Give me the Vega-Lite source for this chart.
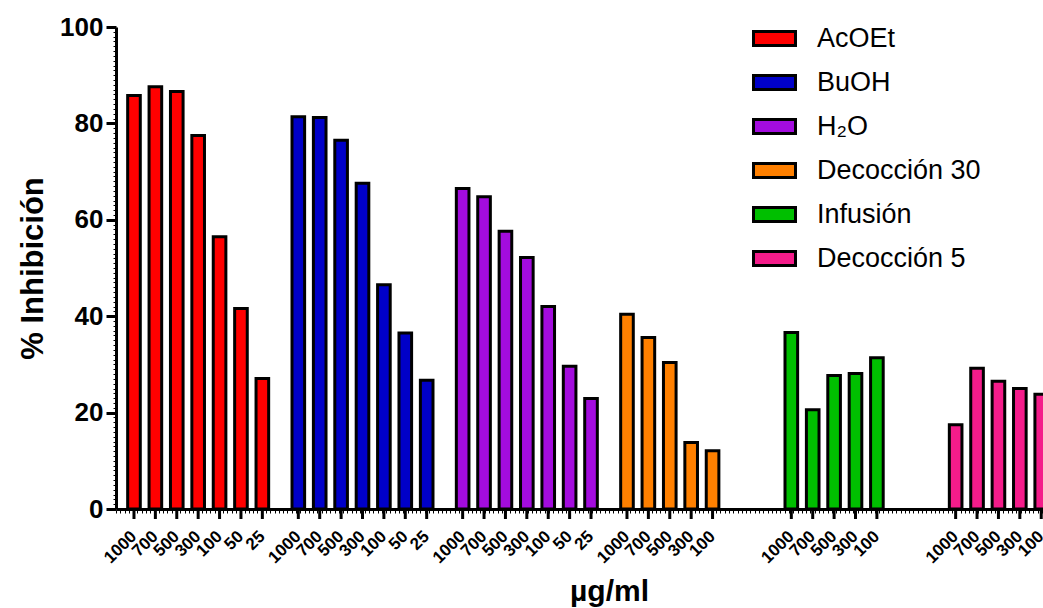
{
  "$schema": "https://vega.github.io/schema/vega-lite/v6.json",
  "width": 927,
  "height": 482,
  "autosize": {"type": "none"},
  "padding": {"left": 116, "top": 27, "right": 0, "bottom": 99},
  "background": "white",
  "config": {
    "view": {"stroke": null},
    "font": "Liberation Sans",
    "axis": {"labelColor": "black", "titleColor": "black", "tickColor": "black", "domainColor": "black", "grid": false}
  },
  "data": {
    "values": [
      {"extracto": "AcOEt", "dosis": "1000", "inhibicion": 85.8},
      {"extracto": "AcOEt", "dosis": "700", "inhibicion": 87.6},
      {"extracto": "AcOEt", "dosis": "500", "inhibicion": 86.6},
      {"extracto": "AcOEt", "dosis": "300", "inhibicion": 77.5},
      {"extracto": "AcOEt", "dosis": "100", "inhibicion": 56.5},
      {"extracto": "AcOEt", "dosis": "50", "inhibicion": 41.6},
      {"extracto": "AcOEt", "dosis": "25", "inhibicion": 27.1},
      {"extracto": "BuOH", "dosis": "1000", "inhibicion": 81.4},
      {"extracto": "BuOH", "dosis": "700", "inhibicion": 81.2},
      {"extracto": "BuOH", "dosis": "500", "inhibicion": 76.5},
      {"extracto": "BuOH", "dosis": "300", "inhibicion": 67.6},
      {"extracto": "BuOH", "dosis": "100", "inhibicion": 46.5},
      {"extracto": "BuOH", "dosis": "50", "inhibicion": 36.5},
      {"extracto": "BuOH", "dosis": "25", "inhibicion": 26.7},
      {"extracto": "H₂O", "dosis": "1000", "inhibicion": 66.5},
      {"extracto": "H₂O", "dosis": "700", "inhibicion": 64.8},
      {"extracto": "H₂O", "dosis": "500", "inhibicion": 57.6},
      {"extracto": "H₂O", "dosis": "300", "inhibicion": 52.2},
      {"extracto": "H₂O", "dosis": "100", "inhibicion": 42.0},
      {"extracto": "H₂O", "dosis": "50", "inhibicion": 29.6},
      {"extracto": "H₂O", "dosis": "25", "inhibicion": 22.9},
      {"extracto": "Decocción 30", "dosis": "1000", "inhibicion": 40.4},
      {"extracto": "Decocción 30", "dosis": "700", "inhibicion": 35.6},
      {"extracto": "Decocción 30", "dosis": "500", "inhibicion": 30.4},
      {"extracto": "Decocción 30", "dosis": "300", "inhibicion": 13.8},
      {"extracto": "Decocción 30", "dosis": "100", "inhibicion": 12.1},
      {"extracto": "Infusión", "dosis": "1000", "inhibicion": 36.6},
      {"extracto": "Infusión", "dosis": "700", "inhibicion": 20.6},
      {"extracto": "Infusión", "dosis": "500", "inhibicion": 27.7},
      {"extracto": "Infusión", "dosis": "300", "inhibicion": 28.1},
      {"extracto": "Infusión", "dosis": "100", "inhibicion": 31.4},
      {"extracto": "Decocción 5", "dosis": "1000", "inhibicion": 17.5},
      {"extracto": "Decocción 5", "dosis": "700", "inhibicion": 29.2},
      {"extracto": "Decocción 5", "dosis": "500", "inhibicion": 26.5},
      {"extracto": "Decocción 5", "dosis": "300", "inhibicion": 25.0},
      {"extracto": "Decocción 5", "dosis": "100", "inhibicion": 23.8}
    ]
  },
  "resolve": {"scale": {"x": "independent"}, "axis": {"x": "independent"}},
  "layer": [
    {
      "mark": {"type": "bar", "stroke": "black", "strokeWidth": 3, "strokeJoin": "miter"},
      "encoding": {
        "x": {
          "field": "extracto", "type": "nominal",
          "sort": ["AcOEt", "BuOH", "H₂O", "Decocción 30", "Infusión", "Decocción 5"],
          "scale": {"range": [0, 986], "paddingInner": 0.142, "paddingOuter": 0.071},
          "axis": {
            "orient": "bottom",
            "title": "µg/ml", "titleFontSize": 30, "titleFontWeight": "bold", "titlePadding": 67,
            "labels": false, "ticks": false, "domainWidth": 3
          }
        },
        "xOffset": {
          "field": "dosis", "type": "nominal",
          "sort": ["1000", "700", "500", "300", "100", "50", "25"],
          "scale": {"paddingInner": 0.41, "paddingOuter": 0}
        },
        "y": {
          "field": "inhibicion", "type": "quantitative",
          "scale": {"domain": [0, 100], "nice": false},
          "axis": {
            "title": "% Inhibición", "titleFontSize": 31, "titleFontWeight": "bold", "titlePadding": 10,
            "labelFontSize": 26, "labelFontWeight": "bold", "labelPadding": 3,
            "labelOverlap": false, "labelFlush": false, "labelBound": false,
            "tickCount": 100,
            "labelExpr": "datum.value % 20 === 0 ? datum.label : ''",
            "tickSize": {"condition": {"test": "datum.value % 20 === 0", "value": 10}, "value": 3},
            "tickWidth": {"condition": {"test": "datum.value % 20 === 0", "value": 3}, "value": 1},
            "domainWidth": 3
          }
        },
        "fill": {
          "field": "extracto", "type": "nominal",
          "scale": {
            "domain": ["AcOEt", "BuOH", "H₂O", "Decocción 30", "Infusión", "Decocción 5"],
            "range": ["#ff0000", "#0000c8", "#a30cde", "#ff8000", "#00bf00", "#f41c8a"]
          },
          "legend": {
            "title": null, "orient": "none", "legendX": 636, "legendY": -11,
            "padding": 0, "offset": 0,
            "symbolType": "M-1,-0.3333H1V0.3333H-1Z", "symbolSize": 1764,
            "symbolStrokeColor": "black", "symbolStrokeWidth": 3, "symbolOpacity": 1,
            "labelFontSize": 27, "labelColor": "black", "labelOffset": 20, "labelLimit": 400,
            "rowPadding": 8
          }
        }
      }
    },
    {
      "mark": {"type": "rule", "strokeWidth": 3, "color": "black", "y2Offset": 10},
      "encoding": {
        "x": {
          "field": "extracto", "type": "nominal",
          "sort": ["AcOEt", "BuOH", "H₂O", "Decocción 30", "Infusión", "Decocción 5"],
          "scale": {"range": [0, 986], "paddingInner": 0.142, "paddingOuter": 0.071},
          "axis": null
        },
        "xOffset": {
          "field": "dosis", "type": "nominal",
          "sort": ["1000", "700", "500", "300", "100", "50", "25"],
          "scale": {"paddingInner": 0.41, "paddingOuter": 0}
        },
        "y": {"datum": 0, "type": "quantitative"},
        "y2": {"datum": 0}
      }
    },
    {
      "mark": {"type": "text", "angle": 315, "align": "right", "baseline": "middle", "fontSize": 17, "fontWeight": "bold", "color": "black", "yOffset": 25},
      "encoding": {
        "x": {
          "field": "extracto", "type": "nominal",
          "sort": ["AcOEt", "BuOH", "H₂O", "Decocción 30", "Infusión", "Decocción 5"],
          "scale": {"range": [0, 986], "paddingInner": 0.142, "paddingOuter": 0.071},
          "axis": null
        },
        "xOffset": {
          "field": "dosis", "type": "nominal",
          "sort": ["1000", "700", "500", "300", "100", "50", "25"],
          "scale": {"paddingInner": 0.41, "paddingOuter": 0}
        },
        "y": {"datum": 0, "type": "quantitative"},
        "text": {"field": "dosis"}
      }
    },
    {
      "mark": {"type": "rule", "opacity": 0},
      "encoding": {
        "x": {
          "datum": 0, "type": "quantitative",
          "scale": {"domain": [0, 230], "range": [0, 986], "nice": false, "zero": false},
          "axis": {
            "orient": "bottom", "tickCount": 230, "labels": false, "domain": false,
            "tickSize": 3, "tickWidth": 1, "title": null, "offset": 1
          }
        }
      }
    }
  ]
}
